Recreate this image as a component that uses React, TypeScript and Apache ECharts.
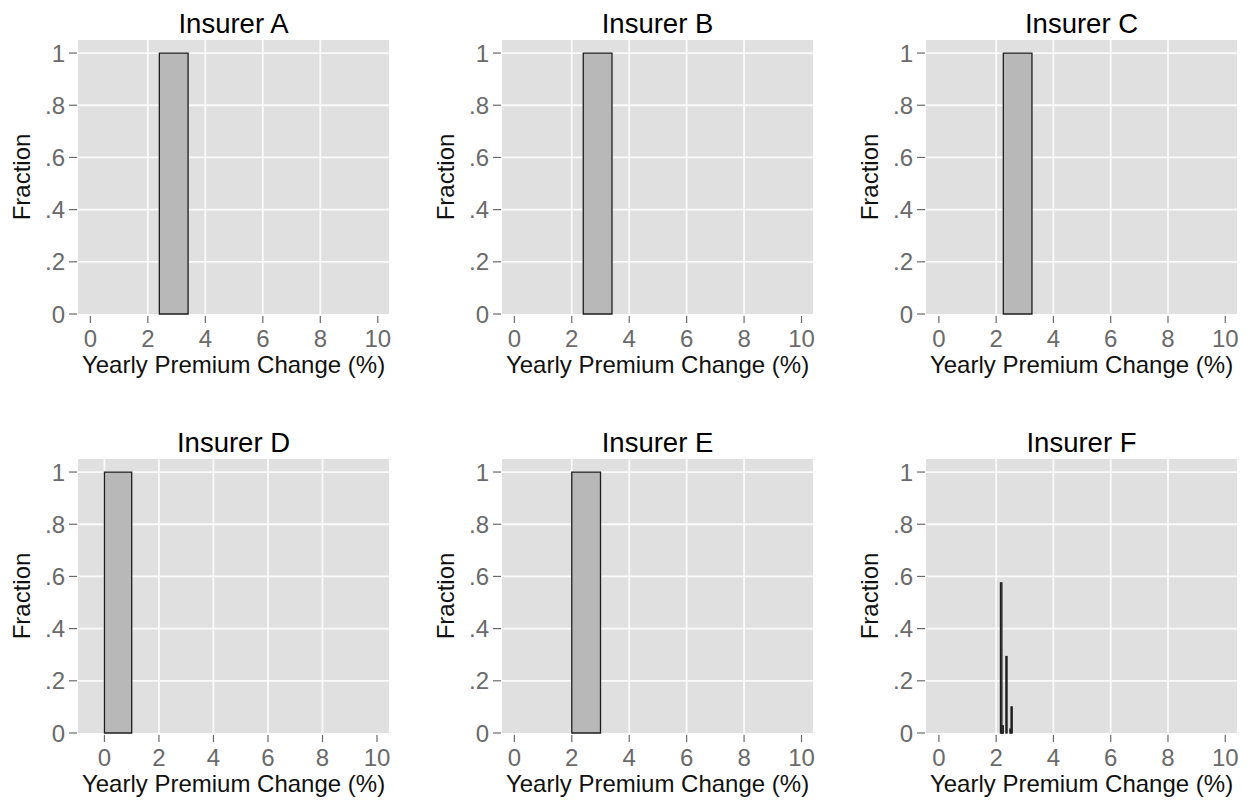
import React, { useEffect, useRef } from "react";
import * as echarts from "echarts";

// ---- data ----
const panelNames = ["Insurer A", "Insurer B", "Insurer C", "Insurer D", "Insurer E", "Insurer F"];
const xTickValues = [0, 2, 4, 6, 8, 10];
const yTickValues = [0, 0.2, 0.4, 0.6, 0.8, 1];

const binStartA = [2.4];
const binEndA = [3.4];
const fracA = [1];

const binStartB = [2.4];
const binEndB = [3.4];
const fracB = [1];

const binStartC = [2.25];
const binEndC = [3.25];
const fracC = [1];

const binStartD = [0];
const binEndD = [1];
const fracD = [1];

const binStartE = [2];
const binEndE = [3];
const fracE = [1];

const binStartF = [2.15, 2.2, 2.34, 2.48, 2.52];
const binEndF = [2.2, 2.25, 2.38, 2.52, 2.56];
const fracF = [0.575, 0.027, 0.293, 0.015, 0.1];

const xMinByPanel = [-0.43, -0.43, -0.45, -0.97, -0.43, -0.45];
const xMaxByPanel = [10.39, 10.4, 10.41, 10.44, 10.4, 10.41];
const yMax = 1.05;

const gridXDefault = [2, 4, 6, 8];
const gridXD = [0, 2, 4, 6, 8];
const gridY = [0.2, 0.4, 0.6, 0.8, 1];

// ---- layout ----
const panelLefts = [78, 502, 926, 78, 502, 926];
const panelTops = [40, 40, 40, 459, 459, 459];
const panelW = 311;
const panelH = 274;

const FONT = "'Liberation Sans', Arial, Helvetica, sans-serif";

function fmtY(v: number): string {
  if (v === 0) return "0";
  if (v === 1) return "1";
  return String(Number(v.toFixed(2))).replace(/^0/, "");
}

export default function App() {
  const ref = useRef<HTMLDivElement>(null);

  useEffect(() => {
    if (!ref.current) return;
    const chart = echarts.init(ref.current, undefined, { renderer: "svg" });

    const bins = [
      [binStartA, binEndA, fracA],
      [binStartB, binEndB, fracB],
      [binStartC, binEndC, fracC],
      [binStartD, binEndD, fracD],
      [binStartE, binEndE, fracE],
      [binStartF, binEndF, fracF],
    ];

    const grids: any[] = [];
    const xAxes: any[] = [];
    const yAxes: any[] = [];
    const series: any[] = [];
    const graphics: any[] = [];

    for (let i = 0; i < 6; i++) {
      grids.push({
        left: panelLefts[i],
        top: panelTops[i],
        width: panelW,
        height: panelH,
        show: true,
        backgroundColor: "#e0e0e0",
        borderWidth: 0,
      });
      xAxes.push({
        type: "value",
        gridIndex: i,
        min: xMinByPanel[i],
        max: xMaxByPanel[i],
        axisLine: { show: false },
        axisTick: { show: false },
        axisLabel: {
          customValues: xTickValues,
          color: "#6a6a6a",
          fontSize: 24,
          fontFamily: FONT,
          margin: 12,
        },
        splitLine: { show: false },
        name: "Yearly Premium Change (%)",
        nameLocation: "middle",
        nameGap: 38,
        nameTextStyle: { color: "#111", fontSize: 24, fontFamily: FONT },
      });
      yAxes.push({
        type: "value",
        gridIndex: i,
        min: 0,
        max: yMax,
        axisLine: { show: false },
        axisTick: { show: false },
        axisLabel: {
          customValues: yTickValues,
          color: "#6a6a6a",
          fontSize: 24,
          fontFamily: FONT,
          margin: 13,
          formatter: (v: number) => fmtY(v),
        },
        splitLine: { show: false },
        name: "Fraction",
        nameLocation: "middle",
        nameGap: 45,
        nameTextStyle: { color: "#111", fontSize: 24, fontFamily: FONT },
      });

      // gridlines (kind 0 = vertical, 1 = horizontal) and ticks (2 = x tick, 3 = y tick)
      const gx = i === 3 ? gridXD : gridXDefault;
      const gridData: number[][] = [];
      gx.forEach((v) => gridData.push([v, 0, 0]));
      gridY.forEach((v) => gridData.push([0, v, 1]));
      xTickValues.forEach((v) => gridData.push([v, 0, 2]));
      yTickValues.forEach((v) => gridData.push([0, v, 3]));
      series.push({
        type: "custom",
        xAxisIndex: i,
        yAxisIndex: i,
        z: 1,
        silent: true,
        clip: false,
        data: gridData,
        renderItem: (params: any, api: any) => {
          const cs = params.coordSys;
          const kind = api.value(2);
          if (kind === 0) {
            const x = api.coord([api.value(0), 0])[0];
            return {
              type: "line",
              shape: { x1: x, y1: cs.y, x2: x, y2: cs.y + cs.height },
              style: { stroke: "#fafafa", lineWidth: 1.8 },
            };
          }
          if (kind === 1) {
            const y = api.coord([0, api.value(1)])[1];
            return {
              type: "line",
              shape: { x1: cs.x, y1: y, x2: cs.x + cs.width, y2: y },
              style: { stroke: "#fafafa", lineWidth: 1.8 },
            };
          }
          if (kind === 2) {
            const x = api.coord([api.value(0), 0])[0];
            const yb = cs.y + cs.height;
            return {
              type: "line",
              shape: { x1: x, y1: yb + 2, x2: x, y2: yb + 9 },
              style: { stroke: "#6a6a6a", lineWidth: 1.2 },
            };
          }
          const y = api.coord([0, api.value(1)])[1];
          return {
            type: "line",
            shape: { x1: cs.x - 1, y1: y, x2: cs.x - 9, y2: y },
            style: { stroke: "#6a6a6a", lineWidth: 1.2 },
          };
        },
      });

      const [s, e, f] = bins[i];
      const barData = s.map((v: number, k: number) => [v, e[k], f[k]]);
      series.push({
        type: "custom",
        xAxisIndex: i,
        yAxisIndex: i,
        z: 3,
        data: barData,
        encode: { x: [0, 1], y: 2 },
        renderItem: (params: any, api: any) => {
          const p0 = api.coord([api.value(0), api.value(2)]);
          const p1 = api.coord([api.value(1), 0]);
          return {
            type: "rect",
            shape: { x: p0[0], y: p0[1], width: p1[0] - p0[0], height: p1[1] - p0[1] },
            style: { fill: "#b8b8b8", stroke: "#1e1e1e", lineWidth: 1.3 },
          };
        },
      });

      graphics.push({
        type: "text",
        x: panelLefts[i] + panelW / 2,
        y: panelTops[i] - 17,
        style: {
          text: panelNames[i],
          font: `27.5px ${FONT}`,
          fill: "#000",
          textAlign: "center",
          textVerticalAlign: "middle",
        },
      });
    }

    chart.setOption({
      animation: false,
      backgroundColor: "#ffffff",
      grid: grids,
      xAxis: xAxes,
      yAxis: yAxes,
      series,
      graphic: graphics,
    });

    return () => chart.dispose();
  }, []);

  return (
    <div
      ref={ref}
      style={{ position: "fixed", left: 0, top: 0, width: 1250, height: 801, background: "#fff" }}
    />
  );
}
